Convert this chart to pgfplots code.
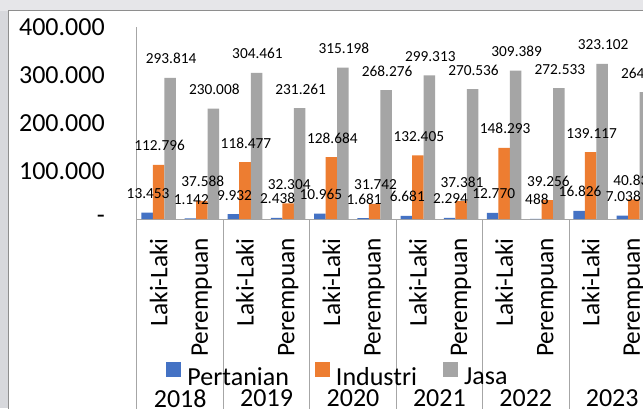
\documentclass[border=0pt]{standalone}
\usepackage{fontspec}
\setmainfont{Carlito}
\usepackage{pgfplots}
\usepackage{pgfplotstable}
\pgfplotsset{compat=1.18}
\definecolor{cBlue}{HTML}{4472C4}
\definecolor{cOrange}{HTML}{ED7D31}
\definecolor{cGray}{HTML}{A5A5A5}
\definecolor{sepcol}{HTML}{A6A6A6}
\definecolor{bgcol}{HTML}{D7D8DC}
\definecolor{topcol}{HTML}{E6E6E9}
\definecolor{framecol}{HTML}{8E8E8E}

\pgfplotstableread{
x pert ind jasa
0 13453 112796 293814
1 1142 37588 230008
2 9932 118477 304461
3 2438 32304 231261
4 10965 128684 315198
5 1681 31742 268276
6 6681 132405 299313
7 2294 37381 270536
8 12770 148293 309389
9 488 39256 272533
10 16826 139117 323102
11 7038 40838 264484
}\datatable

\begin{document}
\begin{tikzpicture}
\path[use as bounding box] (0,0) rectangle (482.25pt,306pt);
\clip (0,0) rectangle (482.25pt,306pt);
\fill[bgcol] (0,0) rectangle (482.25pt,306pt);
\fill[topcol] (0,297.75pt) rectangle (482.25pt,306pt);
\draw[framecol, line width=0.75pt, fill=white] (6pt,-5pt) rectangle (495pt,297.75pt);
\begin{axis}[
  at={(102.75pt,141.75pt)}, anchor=south west,
  scale only axis, width=388.8pt, height=144pt,
  xmin=-0.5, xmax=11.5, ymin=0, ymax=400000,
  ybar=0pt, bar width=8.625pt,
  clip=false,
  axis x line*=bottom, axis y line*=left,
  axis line style={-, sepcol, line width=0.75pt},
  major tick length=0pt,
  scaled y ticks=false,
  xtick={0,1,2,3,4,5,6,7,8,9,10,11},
  xticklabels={Laki-Laki,Perempuan,Laki-Laki,Perempuan,Laki-Laki,Perempuan,Laki-Laki,Perempuan,Laki-Laki,Perempuan,Laki-Laki,Perempuan},
  xticklabel style={font=\fontsize{19}{22}\selectfont, inner sep=0pt, yshift=-14.25pt, rotate=90, anchor=east},
  ytick={0,100000,200000,300000,400000},
  yticklabels={-,100.000,200.000,300.000,400.000},
  yticklabel style={font=\fontsize{19.5}{23}\selectfont, inner sep=0pt, anchor=east, xshift=-24pt},
  nodes near coords={\pgfmathprintnumber[fixed, precision=0, 1000 sep={.}, assume math mode=true]{\pgfplotspointmeta}},
  every node near coord/.append style={font=\fontsize{11.5}{13}\selectfont, anchor=base, yshift=10.5pt, xshift=0.75pt, inner sep=0pt, text=black},
  legend columns=3,
  legend style={at={(0.3858,-0.8125)}, anchor=center, draw=none, fill=none,
    font=\fontsize{19.5}{23}\selectfont, nodes={inner sep=0pt},
    /tikz/every even column/.append style={column sep=19.5pt},
    /tikz/every odd column/.append style={column sep=4.5pt}},
]
\addplot[fill=cBlue, draw=none, legend image code/.code={\fill[cBlue] (0pt,0pt) rectangle (11.25pt,11.25pt);}] table[x=x,y=pert]{\datatable};
\addplot[fill=cOrange, draw=none, legend image code/.code={\fill[cOrange] (0pt,0pt) rectangle (11.25pt,11.25pt);}] table[x=x,y=ind]{\datatable};
\addplot[fill=cGray, draw=none, legend image code/.code={\fill[cGray] (0pt,0pt) rectangle (11.25pt,11.25pt);}] table[x=x,y=jasa]{\datatable};
\legend{Pertanian,Industri,Jasa}
\draw[sepcol, line width=0.75pt] (axis cs:-0.5,0) -- ([yshift=-160pt]axis cs:-0.5,0);
\draw[sepcol, line width=0.75pt] (axis cs:1.5,0) -- ([yshift=-160pt]axis cs:1.5,0);
\draw[sepcol, line width=0.75pt] (axis cs:3.5,0) -- ([yshift=-160pt]axis cs:3.5,0);
\draw[sepcol, line width=0.75pt] (axis cs:5.5,0) -- ([yshift=-160pt]axis cs:5.5,0);
\draw[sepcol, line width=0.75pt] (axis cs:7.5,0) -- ([yshift=-160pt]axis cs:7.5,0);
\draw[sepcol, line width=0.75pt] (axis cs:9.5,0) -- ([yshift=-160pt]axis cs:9.5,0);
\draw[sepcol, line width=0.75pt] (axis cs:11.5,0) -- ([yshift=-160pt]axis cs:11.5,0);
\node[font=\fontsize{19.5}{23}\selectfont, inner sep=0pt] at ([yshift=-134.6pt]axis cs:0.5,0) {2018};
\node[font=\fontsize{19.5}{23}\selectfont, inner sep=0pt] at ([yshift=-134.6pt]axis cs:2.5,0) {2019};
\node[font=\fontsize{19.5}{23}\selectfont, inner sep=0pt] at ([yshift=-134.6pt]axis cs:4.5,0) {2020};
\node[font=\fontsize{19.5}{23}\selectfont, inner sep=0pt] at ([yshift=-134.6pt]axis cs:6.5,0) {2021};
\node[font=\fontsize{19.5}{23}\selectfont, inner sep=0pt] at ([yshift=-134.6pt]axis cs:8.5,0) {2022};
\node[font=\fontsize{19.5}{23}\selectfont, inner sep=0pt] at ([yshift=-134.6pt]axis cs:10.5,0) {2023};
\end{axis}
\end{tikzpicture}
\end{document}
